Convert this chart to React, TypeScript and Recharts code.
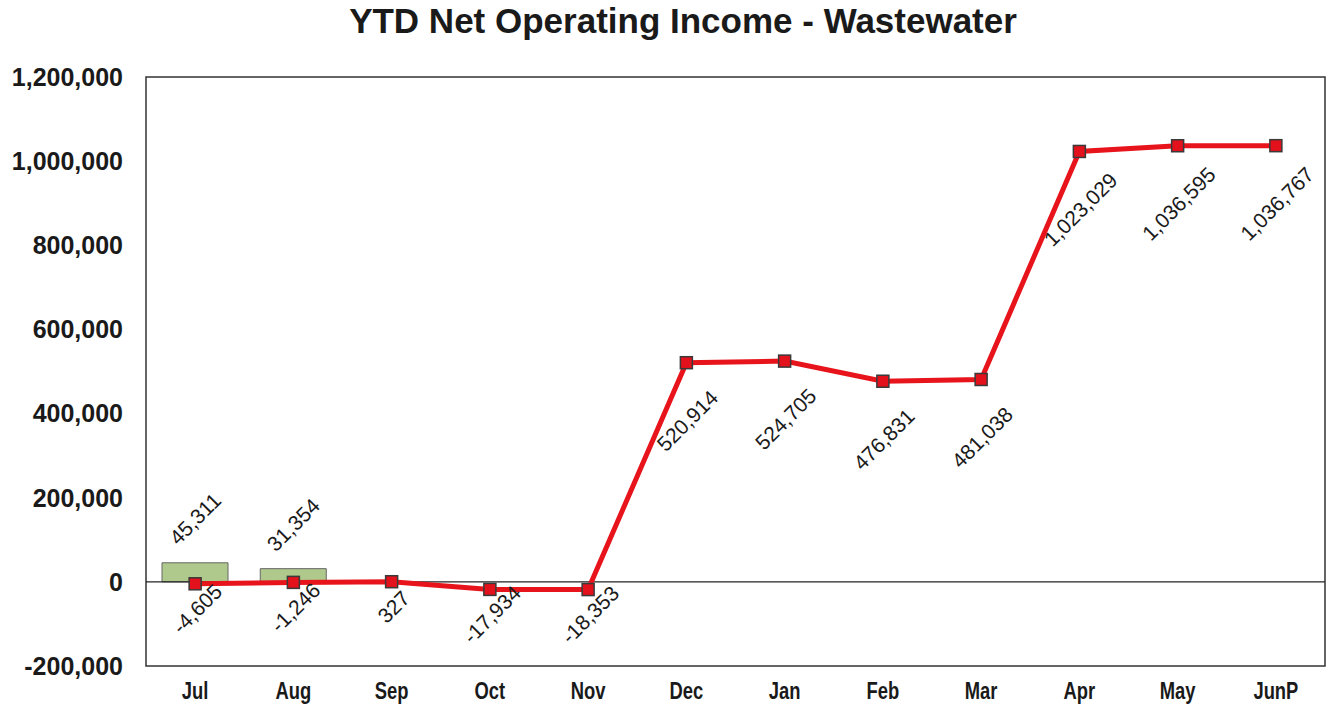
import {
    Bar,
    ComposedChart,
    LabelList,
    Line,
    ReferenceArea,
    ReferenceLine,
    XAxis,
    YAxis,
} from 'recharts';

const months = ['Jul', 'Aug', 'Sep', 'Oct', 'Nov', 'Dec', 'Jan', 'Feb', 'Mar', 'Apr', 'May', 'JunP'];
const ytdIncome = [-4605, -1246, 327, -17934, -18353, 520914, 524705, 476831, 481038, 1023029, 1036595, 1036767];
const barValues = [45311, 31354, null, null, null, null, null, null, null, null, null, null];
const yTicks = [-200000, 0, 200000, 400000, 600000, 800000, 1000000, 1200000];

const chartData = months.map((month, i) => ({
    month,
    income: ytdIncome[i],
    bar: barValues[i],
}));

const fmt = (v: number) => v.toLocaleString('en-US');

const labelFont = {
    fontFamily: '"Liberation Sans", Arial, sans-serif',
    fontSize: 21,
    fill: '#1a1a1a',
};

function LineLabel(props: any) {
    const { x, y, value } = props;
    if (value == null) return null;
    const big = value > 100000;
    const cx = x + (big ? 1 : 2);
    const cy = y + (big ? 58 : 25);
    return (
        <text
            x={cx}
            y={cy}
            textAnchor="middle"
            dominantBaseline="central"
            transform={`rotate(-45, ${cx}, ${cy})`}
            {...labelFont}
        >
            {fmt(value)}
        </text>
    );
}

function BarLabel(props: any) {
    const { x, y, width, value } = props;
    if (value == null) return null;
    const cx = x + width / 2;
    const cy = y - 44;
    return (
        <text
            x={cx}
            y={cy}
            textAnchor="middle"
            dominantBaseline="central"
            transform={`rotate(-45, ${cx}, ${cy})`}
            {...labelFont}
        >
            {fmt(value)}
        </text>
    );
}

function MonthTick(props: any) {
    const { x, y, payload } = props;
    return (
        <text
            transform={`translate(${x}, ${y}) scale(0.8, 1)`}
            textAnchor="middle"
            dy="0.71em"
            fontFamily='"Liberation Sans", Arial, sans-serif'
            fontWeight="bold"
            fontSize={23}
            fill="#1a1a1a"
        >
            {payload.value}
        </text>
    );
}

function SquareDot(props: any) {
    const { cx, cy } = props;
    if (cx == null || cy == null) return null;
    return (
        <rect
            x={cx - 6}
            y={cy - 6}
            width={12}
            height={12}
            fill="#e3111b"
            stroke="#3a3a3a"
            strokeWidth={1.5}
        />
    );
}

export default function App() {
    return (
        <div style={{ position: 'absolute', left: 0, top: 0, width: 1336, height: 707, background: '#fff' }}>
            <div
                style={{
                    position: 'absolute',
                    left: 0,
                    top: 1,
                    width: 1366,
                    textAlign: 'center',
                    fontFamily: '"Liberation Sans", Arial, sans-serif',
                    fontWeight: 'bold',
                    fontSize: 35,
                    color: '#1a1a1a',
                }}
            >
                YTD Net Operating Income - Wastewater
            </div>
            <ComposedChart
                width={1336}
                height={707}
                data={chartData}
                margin={{ top: 77, right: 11, bottom: 0, left: 0 }}
            >
                <XAxis
                    dataKey="month"
                    height={41}
                    axisLine={false}
                    tickLine={false}
                    tickSize={0}
                    tickMargin={17}
                    interval={0}
                    tick={<MonthTick />}
                />
                <YAxis
                    width={146}
                    domain={[-200000, 1200000]}
                    ticks={yTicks}
                    axisLine={false}
                    tickLine={false}
                    tickSize={0}
                    tickMargin={23}
                    tickFormatter={(v) => fmt(v)}
                    tick={{
                        fontFamily: '"Liberation Sans", Arial, sans-serif',
                        fontWeight: 'bold',
                        fontSize: 25,
                        fill: '#1a1a1a',
                    }}
                />
                <ReferenceArea
                    y1={-200000}
                    y2={1200000}
                    fill="none"
                    stroke="#333"
                    strokeWidth={1.5}
                />
                <ReferenceLine y={0} stroke="#222" strokeWidth={1.2} />
                <Bar
                    dataKey="bar"
                    barSize={66}
                    fill="#aec98b"
                    stroke="#666"
                    strokeWidth={1}
                    isAnimationActive={false}
                >
                    <LabelList dataKey="bar" content={<BarLabel />} />
                </Bar>
                <Line
                    dataKey="income"
                    stroke="#e8141c"
                    strokeWidth={5}
                    dot={<SquareDot />}
                    activeDot={false}
                    isAnimationActive={false}
                >
                    <LabelList dataKey="income" content={<LineLabel />} />
                </Line>
            </ComposedChart>
        </div>
    );
}
